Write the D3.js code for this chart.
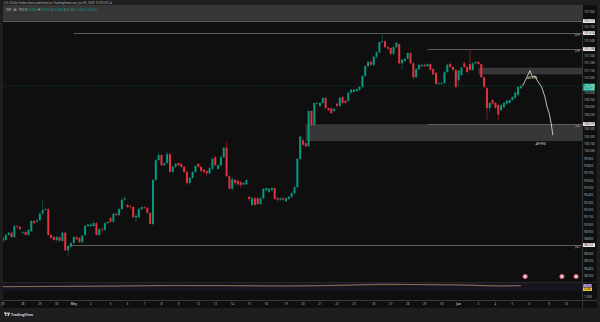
<!DOCTYPE html>
<html lang="en">
<head>
<meta charset="UTF-8">
<title>DXY 4h</title>
<style>
  body { margin: 0; background: #1e1e1e; }
  svg { display: block; font-family: "Noto Sans", sans-serif; }
</style>
</head>
<body>
<div id="chart"></div>
<script src="https://d3js.org/d3.v7.min.js"></script>
<script>
// 4h candles
const open = [98.78,98.79,98.86,98.89,98.83,98.98,98.97,98.89,98.90,98.86,
  98.91,99.05,99.04,99.06,99.15,99.20,99.21,98.86,98.83,98.79,
  98.83,98.78,98.89,98.65,98.70,98.75,98.83,98.82,98.76,98.86,
  98.98,98.98,98.98,99.02,98.86,98.94,98.93,99.02,99.09,99.04,
  99.15,99.13,99.21,99.34,99.27,99.25,99.24,99.10,99.10,99.21,
  99.24,99.23,99.16,99.01,99.61,99.88,99.95,99.81,99.84,99.96,
  99.72,99.79,99.84,99.83,99.79,99.72,99.57,99.64,99.72,99.83,
  99.79,99.75,99.73,99.70,99.76,99.92,99.76,99.81,99.92,100.05,
  99.66,99.49,99.61,99.60,99.58,99.55,99.55,99.38,99.27,99.36,
  99.36,99.28,99.36,99.47,99.45,99.47,99.50,99.36,99.34,99.36,
  99.32,99.35,99.38,99.43,99.51,99.90,100.15,100.11,100.07,100.55,
  100.36,100.65,100.62,100.66,100.73,100.59,100.59,100.55,100.65,100.62,
  100.74,100.69,100.69,100.80,100.81,100.82,100.84,100.88,101.03,101.16,
  101.22,101.18,101.29,101.35,101.49,101.50,101.42,101.41,101.33,101.42,
  101.46,101.20,101.23,101.26,101.34,101.20,101.01,101.12,101.16,101.18,
  101.16,101.19,101.12,101.07,100.92,100.92,100.93,101.08,101.19,101.15,
  101.11,100.97,101.04,101.20,101.15,101.19,101.11,101.20,101.22,101.19,
  101.01,100.86,100.59,100.70,100.66,100.63,100.56,100.60,100.65,100.66,
  100.70,100.73,100.77,100.86];
const high = [98.83,98.87,98.90,98.90,99.00,99.00,98.98,98.91,98.91,98.94,
  99.06,99.06,99.08,99.16,99.35,99.24,99.23,98.87,98.85,98.85,
  98.85,98.90,98.90,98.72,98.76,98.85,98.85,98.83,98.86,99.00,
  99.01,99.02,99.04,99.04,98.95,98.97,99.04,99.05,99.10,99.16,
  99.16,99.23,99.35,99.39,99.28,99.27,99.25,99.15,99.23,99.25,
  99.25,99.24,99.17,99.62,99.90,99.98,99.96,99.85,99.99,99.98,
  99.80,99.84,99.85,99.84,99.80,99.73,99.65,99.73,99.81,99.84,
  99.80,99.76,99.75,99.79,99.91,99.94,99.83,99.94,100.06,100.13,
  99.68,99.64,99.62,99.61,99.60,99.58,99.62,99.39,99.38,99.38,
  99.38,99.38,99.50,99.51,99.50,99.51,99.51,99.38,99.38,99.38,
  99.38,99.39,99.45,99.53,99.91,100.21,100.18,100.13,100.56,100.56,
  100.67,100.67,100.67,100.74,100.74,100.60,100.60,100.59,100.66,100.74,
  100.75,100.70,100.81,100.85,100.85,100.86,100.89,101.04,101.18,101.23,
  101.23,101.30,101.37,101.50,101.59,101.52,101.44,101.42,101.44,101.49,
  101.48,101.26,101.27,101.35,101.35,101.22,101.14,101.19,101.19,101.19,
  101.20,101.20,101.14,101.08,100.95,100.95,101.10,101.20,101.22,101.16,
  101.12,101.11,101.15,101.22,101.16,101.38,101.22,101.23,101.23,101.20,
  101.03,100.88,100.67,100.71,100.67,100.65,100.65,100.67,100.70,100.71,
  100.75,100.81,100.89,100.92];
const low = [98.75,98.78,98.85,98.82,98.82,98.94,98.93,98.87,98.85,98.85,
  98.90,99.01,99.02,99.05,99.13,99.19,98.85,98.80,98.78,98.76,
  98.76,98.76,98.64,98.57,98.68,98.74,98.79,98.75,98.75,98.85,
  98.97,98.97,98.97,98.85,98.85,98.90,98.91,99.01,99.02,99.02,
  99.12,99.12,99.20,99.32,99.23,99.21,99.09,99.04,99.09,99.20,
  99.21,99.15,99.00,98.98,99.60,99.87,99.80,99.80,99.83,99.70,
  99.70,99.77,99.80,99.77,99.70,99.54,99.55,99.62,99.70,99.77,
  99.72,99.69,99.66,99.69,99.75,99.80,99.75,99.80,99.91,99.65,
  99.47,99.47,99.53,99.53,99.50,99.53,99.54,99.32,99.25,99.25,
  99.27,99.27,99.35,99.46,99.43,99.46,99.34,99.31,99.32,99.32,
  99.31,99.34,99.36,99.42,99.50,99.88,100.07,100.05,100.06,100.35,
  100.35,100.63,100.60,100.65,100.58,100.55,100.51,100.54,100.60,100.60,
  100.65,100.65,100.67,100.78,100.80,100.81,100.82,100.86,101.01,101.15,
  101.16,101.16,101.27,101.34,101.48,101.41,101.38,101.31,101.31,101.41,
  101.19,101.11,101.22,101.25,101.19,100.97,101.00,101.11,101.15,101.15,
  101.15,101.10,101.04,100.90,100.90,100.90,100.92,101.07,101.14,101.10,
  100.86,100.89,101.03,101.14,101.07,101.10,101.10,101.19,101.18,101.00,
  100.86,100.43,100.54,100.63,100.58,100.43,100.54,100.59,100.63,100.65,
  100.69,100.71,100.75,100.85];
const close = [98.82,98.86,98.89,98.83,98.98,98.97,98.94,98.90,98.86,98.93,
  99.05,99.02,99.06,99.15,99.20,99.21,98.86,98.82,98.79,98.83,
  98.78,98.89,98.65,98.71,98.75,98.83,98.80,98.76,98.85,98.98,
  99.00,99.00,99.02,98.86,98.94,98.93,99.02,99.04,99.04,99.15,
  99.13,99.21,99.34,99.36,99.24,99.24,99.10,99.12,99.21,99.24,
  99.23,99.16,99.01,99.61,99.88,99.95,99.81,99.84,99.96,99.72,
  99.79,99.83,99.81,99.79,99.72,99.57,99.64,99.72,99.80,99.79,
  99.73,99.72,99.70,99.77,99.90,99.81,99.81,99.92,100.05,99.66,
  99.49,99.62,99.57,99.55,99.54,99.57,99.61,99.35,99.36,99.27,
  99.28,99.36,99.49,99.50,99.49,99.50,99.35,99.34,99.36,99.34,
  99.36,99.38,99.43,99.51,99.90,100.20,100.09,100.07,100.55,100.36,
  100.66,100.66,100.66,100.73,100.59,100.56,100.52,100.58,100.62,100.73,
  100.66,100.66,100.80,100.84,100.84,100.85,100.88,101.03,101.16,101.22,
  101.18,101.29,101.35,101.49,101.50,101.42,101.40,101.33,101.42,101.48,
  101.20,101.25,101.26,101.34,101.20,101.01,101.12,101.18,101.18,101.16,
  101.19,101.11,101.05,100.92,100.93,100.93,101.08,101.18,101.15,101.11,
  100.88,101.10,101.14,101.15,101.08,101.11,101.20,101.22,101.19,101.01,
  100.88,100.59,100.66,100.65,100.59,100.50,100.63,100.66,100.69,100.70,
  100.74,100.80,100.88,100.89];

// time axis: bar index of each day label
const dayIdx = [0,7,13,19,25,31,38,44,50,56,62,69,75,81,87,93,100,106,112,118,124,131,137,143,149,155,161,168,174,180,186,193,199];
const dayLabels = ["25","28","29","30","May","2","5","6","7","8","9","12","13","14","15","16","19","20","21","22","23","26","27","28","29","30","Jun","3","4","5","6","9","10"];

// horizontal levels
const levelPrice = [101.777, 101.614, 101.396, 100.373, 98.722];
const levelFrom  = [-2, 25, 150, 150, 24];
const levelTag   = ["", "pwH", "pdH", "pdL", "pwL"];

// FVG boxes
const zoneTop    = [102.30, 101.14, 100.37];
const zoneBottom = [101.78, 101.05, 100.14];
const zoneFrom   = [-2, 168, 107];

// drawn projection
const projIdx   = [183.6, 186.2, 187.1, 188.0, 188.7, 190.3, 191.5, 192.3, 193.0, 193.7, 194.3];
const projPrice = [100.89, 101.10, 101.01, 101.03, 100.97, 100.88, 100.74, 100.60, 100.52, 100.38, 100.22];

// calendar events
const eventIdx = [184.5, 197.5, 202.5];

// oscillator pane
const oscIdx = [0, 20, 40, 60, 80, 100, 120, 135, 150, 165, 175, 183];
const oscA = [45, 48, 50, 55, 52, 50, 58, 66, 60, 56, 48, 55];
const oscB = [44, 46, 49, 53, 53, 50, 55, 62, 62, 58, 52, 52];

const W = 600, H = 322;
const paneL = 3, paneR = 582, paneT = 5, paneB = 282;
const green = "#089981", red = "#e5323f";

const x = d3.scaleLinear().domain([0, 200]).range([3, 569]);
const y = d3.scaleLinear().domain([98.3, 101.9]).range([276, 12]);
const yOsc = d3.scaleLinear().domain([0, 100]).range([292, 280]);

const svg = d3.select("#chart").append("svg")
  .attr("width", W).attr("height", H);

svg.append("rect").attr("width", W).attr("height", H).attr("fill", "#1e1e1e");
svg.append("rect").attr("x", paneL).attr("y", paneT)
  .attr("width", 594).attr("height", 303).attr("fill", "#0f0f0f");

const defs = svg.append("defs");
defs.append("clipPath").attr("id", "clip").append("rect")
  .attr("x", paneL).attr("y", paneT).attr("width", paneR - paneL).attr("height", paneB - paneT);

const main = svg.append("g").attr("clip-path", "url(#clip)");

// zones
main.append("g").selectAll("rect")
  .data(zoneTop.map((t, i) => ({ t, b: zoneBottom[i], from: zoneFrom[i] })))
  .join("rect")
  .attr("x", d => x(d.from))
  .attr("y", d => y(d.t))
  .attr("width", d => paneR - x(d.from))
  .attr("height", d => y(d.b) - y(d.t))
  .attr("fill", "#8c8c8c")
  .attr("opacity", 0.32);

// level lines
main.append("g").selectAll("line")
  .data(levelPrice.map((p, i) => ({ p, from: levelFrom[i] })))
  .join("line")
  .attr("x1", d => x(d.from)).attr("x2", paneR)
  .attr("y1", d => Math.round(y(d.p)) + 0.5).attr("y2", d => Math.round(y(d.p)) + 0.5)
  .attr("stroke", "#5c5c5c").attr("stroke-width", 1);

// current price line
const last = close.length - 1;
main.append("line")
  .attr("x1", paneL).attr("x2", paneR)
  .attr("y1", y(close[last])).attr("y2", y(close[last]))
  .attr("stroke", green).attr("stroke-width", 0.6)
  .attr("stroke-dasharray", "1,1.5").attr("opacity", 0.6);

// candles
const candles = d3.range(close.length).map(i => ({
  i, o: open[i], h: high[i], l: low[i], c: close[i]
}));
const cg = main.append("g");
cg.selectAll("line")
  .data(candles)
  .join("line")
  .attr("x1", d => x(d.i)).attr("x2", d => x(d.i))
  .attr("y1", d => y(d.h)).attr("y2", d => y(d.l))
  .attr("stroke", d => d.c >= d.o ? green : red)
  .attr("stroke-width", 0.6)
  .attr("opacity", 0.75);
cg.selectAll("rect")
  .data(candles)
  .join("rect")
  .attr("x", d => x(d.i) - 1)
  .attr("width", 2)
  .attr("y", d => y(Math.max(d.o, d.c)))
  .attr("height", d => Math.max(0.7, Math.abs(y(d.o) - y(d.c))))
  .attr("fill", d => d.c >= d.o ? green : red);

// projection drawing
main.append("path")
  .datum(projIdx.map((v, i) => [v, projPrice[i]]))
  .attr("d", d3.line().x(d => x(d[0])).y(d => y(d[1])))
  .attr("fill", "none")
  .attr("stroke", "#e8e8e8")
  .attr("stroke-width", 0.8);

main.append("text")
  .attr("x", x(187)).attr("y", y(101.05) + 4.5)
  .attr("text-anchor", "middle")
  .attr("fill", "#e0e0e0").style("font-size", "3px")
  .text("4H FVG");
main.append("text")
  .attr("x", x(190)).attr("y", y(100.14) + 3.5)
  .attr("text-anchor", "middle")
  .attr("fill", "#e0e0e0").style("font-size", "3px")
  .text("4H FVG");

// level tags
main.append("g").selectAll("text")
  .data(levelPrice.map((p, i) => ({ p, tag: levelTag[i] })).filter(d => d.tag))
  .join("text")
  .attr("x", 580).attr("y", d => y(d.p) + 3.2)
  .attr("text-anchor", "end")
  .attr("fill", "#a8a8a8").style("font-size", "2.6px")
  .text(d => d.tag);

// events
main.append("g").selectAll("circle")
  .data(eventIdx)
  .join("circle")
  .attr("cx", d => x(d)).attr("cy", 276.5).attr("r", 2.2)
  .attr("fill", "#c9d3dd").attr("stroke", "#e2384a").attr("stroke-width", 0.9);

// top legend band text
svg.append("text")
  .attr("x", 4).attr("y", 3.8)
  .attr("fill", "#bdbdbd").style("font-size", "2.9px")
  .text("U.S. Dollar Index chart published on TradingView.com, Jun 05, 2025 13:39 UTC-4");
const legend = svg.append("text").attr("x", 6).attr("y", 10.8).style("font-size", "2.8px");
legend.append("tspan").attr("fill", "#d0d0d0").text("DXY · 4h · TVC   ");
[["O", "100.864"], ["H", "100.921"], ["L", "100.848"], ["C", "100.893"]].forEach(([k, v]) => {
  legend.append("tspan").attr("fill", "#d0d0d0").text(k);
  legend.append("tspan").attr("fill", green).text(v + "  ");
});
legend.append("tspan").attr("fill", green).text("+0.029 (+0.03%)");

// oscillator pane
svg.append("rect").attr("x", paneL).attr("y", 283).attr("width", paneR - paneL).attr("height", 8)
  .attr("fill", "#16141f");
svg.append("path")
  .datum(oscIdx.map((v, i) => [v, oscA[i]]))
  .attr("d", d3.line().x(d => x(d[0])).y(d => yOsc(d[1])).curve(d3.curveMonotoneX))
  .attr("fill", "none").attr("stroke", "#7e57c2").attr("stroke-width", 0.6);
svg.append("path")
  .datum(oscIdx.map((v, i) => [v, oscB[i]]))
  .attr("d", d3.line().x(d => x(d[0])).y(d => yOsc(d[1])).curve(d3.curveMonotoneX))
  .attr("fill", "none").attr("stroke", "#c9a227").attr("stroke-width", 0.5);

// separators
svg.append("line").attr("x1", paneL).attr("x2", 597).attr("y1", 282.5).attr("y2", 282.5)
  .attr("stroke", "#262626");
svg.append("line").attr("x1", paneL).attr("x2", 597).attr("y1", 300.5).attr("y2", 300.5)
  .attr("stroke", "#3a3a3a");
svg.append("line").attr("x1", 582.5).attr("x2", 582.5).attr("y1", paneT).attr("y2", 308)
  .attr("stroke", "#333");

// price axis
const marks = levelPrice.map(p => y(p)).concat([y(close[last])]);
const ticks = d3.range(0, 37).map(k => 98.3 + k * 0.1);
svg.append("g").selectAll("text")
  .data(ticks.filter(t => marks.every(m => Math.abs(y(t) - m) > 4.5)))
  .join("text")
  .attr("x", 584).attr("y", d => y(d) + 1)
  .attr("fill", "#b2b5be").style("font-size", "2.9px")
  .text(d => d.toFixed(3));

const hl = svg.append("g");
levelPrice.forEach(p => {
  const yy = y(p);
  hl.append("rect").attr("x", 583).attr("y", yy - 2).attr("width", 12).attr("height", 4)
    .attr("rx", 0.5).attr("fill", "#e8e8e8");
  hl.append("text").attr("x", 584).attr("y", yy + 1)
    .attr("fill", "#131313").style("font-size", "2.9px").text(p.toFixed(3));
});
const cy = y(close[last]);
hl.append("rect").attr("x", 583).attr("y", cy - 2.5).attr("width", 12).attr("height", 7.5)
  .attr("rx", 0.5).attr("fill", green);
hl.append("text").attr("x", 584).attr("y", cy + 0.9)
  .attr("fill", "#fff").style("font-size", "2.9px").text(close[last].toFixed(3));
hl.append("text").attr("x", 584).attr("y", cy + 4.2)
  .attr("fill", "#fff").style("font-size", "2.6px").text("02:20:46");

hl.append("rect").attr("x", 583).attr("y", 284).attr("width", 9).attr("height", 3.5).attr("fill", "#7e57c2");
hl.append("text").attr("x", 584).attr("y", 286.7).attr("fill", "#fff").style("font-size", "2.6px").text("55.12");
hl.append("rect").attr("x", 583).attr("y", 287.5).attr("width", 9).attr("height", 3.5).attr("fill", "#f7c525");
hl.append("text").attr("x", 584).attr("y", 290.2).attr("fill", "#131313").style("font-size", "2.6px").text("52.40");
hl.append("text").attr("x", 584).attr("y", 297.8).attr("fill", "#b2b5be").style("font-size", "2.6px").text("1.35M");

// time axis
svg.append("g").selectAll("text")
  .data(dayIdx.map((v, i) => ({ v, t: dayLabels[i] })))
  .join("text")
  .attr("x", d => x(d.v)).attr("y", 305)
  .attr("text-anchor", "middle")
  .attr("fill", "#b2b5be")
  .style("font-size", "2.9px")
  .style("font-weight", d => isNaN(+d.t) ? "bold" : "normal")
  .text(d => d.t);

// footer logo
const logo = svg.append("g").attr("transform", "translate(4,312.5)");
logo.append("rect").attr("x", 0).attr("y", 0).attr("width", 2.4).attr("height", 1.2).attr("fill", "#d1d4dc");
logo.append("rect").attr("x", 1.2).attr("y", 0).attr("width", 1.2).attr("height", 3.4).attr("fill", "#d1d4dc");
logo.append("circle").attr("cx", 3.6).attr("cy", 0.7).attr("r", 0.65).attr("fill", "#d1d4dc");
logo.append("path").attr("d", "M4.6,0 L6.2,0 L4.8,3.4 L3.3,3.4 Z").attr("fill", "#d1d4dc");
svg.append("text").attr("x", 11).attr("y", 316)
  .attr("fill", "#d1d4dc").style("font-size", "3.6px").style("font-weight", "bold")
  .text("TradingView");
</script>
</body>
</html>
